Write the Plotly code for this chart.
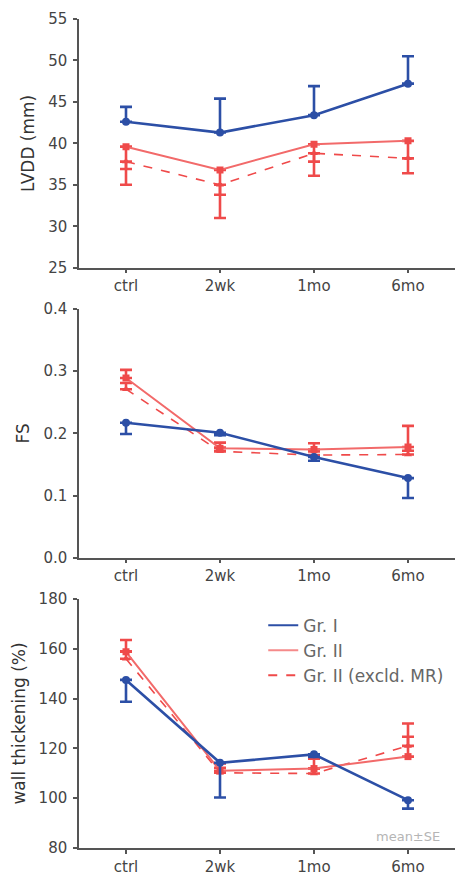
import plotly.graph_objects as go

categories = ["ctrl", "2wk", "1mo", "6mo"]

# LVDD (mm)
lvdd_g1 = [42.6, 41.3, 43.4, 47.2]
lvdd_g1_err = [1.8, 4.1, 3.5, 3.3]
lvdd_g2 = [39.6, 36.8, 39.9, 40.3]
lvdd_g2_err = [2.7, 3.0, 2.1, 2.1]
lvdd_g2x = [37.8, 35.0, 38.8, 38.2]
lvdd_g2x_err = [2.8, 4.0, 2.7, 1.8]

# FS
fs_g1 = [0.217, 0.201, 0.162, 0.128]
fs_g1_err = [0.018, 0.004, 0.006, 0.032]
fs_g2 = [0.289, 0.176, 0.174, 0.178]
fs_g2_err = [0.013, 0.009, 0.010, 0.034]
fs_g2x = [0.271, 0.171, 0.165, 0.166]
fs_g2x_err = [0.010, 0.006, 0.006, 0.006]

# wall thickening (%)
wt_g1 = [147.5, 114.2, 117.6, 99.2]
wt_g1_err = [8.8, 13.9, 1.0, 3.4]
wt_g2 = [158.8, 111.0, 111.9, 116.7]
wt_g2_err = [4.7, 3.0, 4.0, 8.0]
wt_g2x = [156.0, 110.2, 109.9, 121.0]
wt_g2x_err = [3.0, 2.0, 2.0, 9.0]

BLUE = "#2c4fa6"
RED = "#ef4a4a"
RED_LIGHT = "#f26a6a"
AXIS = "#555555"
TXT = "#444444"

x = list(range(len(categories)))
fig = go.Figure()

panels = [
    (lvdd_g1, lvdd_g1_err, lvdd_g2, lvdd_g2_err, lvdd_g2x, lvdd_g2x_err, "up", "down"),
    (fs_g1, fs_g1_err, fs_g2, fs_g2_err, fs_g2x, fs_g2x_err, "down", "up"),
    (wt_g1, wt_g1_err, wt_g2, wt_g2_err, wt_g2x, wt_g2x_err, "down", "up"),
]


def err(vals, direction, color):
    zeros = [0] * len(vals)
    return dict(
        type="data", symmetric=False,
        array=vals if direction == "up" else zeros,
        arrayminus=vals if direction == "down" else zeros,
        color=color, thickness=2.6, width=6,
    )


for i, (g1, g1e, g2, g2e, g2x, g2xe, d1, d2) in enumerate(panels):
    xa = "x" if i == 0 else f"x{i+1}"
    ya = "y" if i == 0 else f"y{i+1}"
    fig.add_trace(go.Scatter(
        x=x, y=g2x, mode="lines+markers", name="Gr. II (excld. MR)",
        line=dict(color=RED, width=1.6, dash="dash"),
        marker=dict(symbol="triangle-up", size=7, color=RED),
        error_y=err(g2xe, d2, RED), xaxis=xa, yaxis=ya, showlegend=False,
    ))
    fig.add_trace(go.Scatter(
        x=x, y=g2, mode="lines+markers", name="Gr. II",
        line=dict(color=RED_LIGHT, width=2),
        marker=dict(symbol="square", size=7, color=RED),
        error_y=err(g2e, d2, RED), xaxis=xa, yaxis=ya, showlegend=False,
    ))
    fig.add_trace(go.Scatter(
        x=x, y=g1, mode="lines+markers", name="Gr. I",
        line=dict(color=BLUE, width=2.6),
        marker=dict(symbol="circle", size=8, color=BLUE),
        error_y=err(g1e, d1, BLUE), xaxis=xa, yaxis=ya, showlegend=False,
    ))

# legend-only traces
for name, color, dash, rank in [("Gr. I", BLUE, "solid", 1),
                                ("Gr. II", "#f58a8a", "solid", 2),
                                ("Gr. II (excld. MR)", RED, "dash", 3)]:
    fig.add_trace(go.Scatter(
        x=[None], y=[None], mode="lines", name=name,
        line=dict(color=color, width=2, dash=dash),
        xaxis="x3", yaxis="y3", legendrank=rank,
    ))

font = "DejaVu Sans, Arial, sans-serif"
xcommon = dict(
    tickmode="array", tickvals=x, ticktext=categories, range=[-0.5, 3.5],
    showline=True, linecolor=AXIS, linewidth=1.5, ticks="outside", ticklen=4,
    tickcolor=AXIS, tickwidth=1.5, showgrid=False, zeroline=False,
    tickfont=dict(size=15, color=TXT, family=font), automargin=False,
)
ycommon = dict(
    showline=True, linecolor=AXIS, linewidth=1.5, ticks="outside", ticklen=4,
    tickcolor=AXIS, tickwidth=1.5, showgrid=False, zeroline=False,
    tickfont=dict(size=15, color=TXT, family=font),
    title_font=dict(size=17, color="#333333", family=font),
    title_standoff=9, ticklabelstandoff=3, automargin=False,
)

fig.update_layout(
    width=467, height=877,
    margin=dict(l=79, r=12, t=19, b=29, autoexpand=False),
    paper_bgcolor="white", plot_bgcolor="white",
    font=dict(family=font, color=TXT),
    xaxis=dict(**xcommon, anchor="y", domain=[0, 1]),
    xaxis2=dict(**xcommon, anchor="y2", domain=[0, 1]),
    xaxis3=dict(**xcommon, anchor="y3", domain=[0, 1]),
    yaxis=dict(**ycommon, anchor="x", domain=[0.7, 1.0], range=[25, 55],
               tickvals=[25, 30, 35, 40, 45, 50, 55], title_text="LVDD (mm)"),
    yaxis2=dict(**ycommon, anchor="x2", domain=[0.3502, 0.6502], range=[0, 0.4],
                tickvals=[0, 0.1, 0.2, 0.3, 0.4], tickformat=".1f", title_text="FS"),
    yaxis3=dict(**ycommon, anchor="x3", domain=[0.0, 0.3004], range=[80, 180],
                tickvals=[80, 100, 120, 140, 160, 180], title_text="wall thickening (%)"),
    legend=dict(
        x=0.49, y=0.29, xanchor="left", yanchor="top",
        bgcolor="rgba(0,0,0,0)", font=dict(size=17, color="#666666", family=font),
        tracegroupgap=0, itemwidth=30,
    ),
    annotations=[dict(
        text="mean±SE", x=0.875, y=0.0133, xref="paper", yref="paper",
        xanchor="center", yanchor="middle",
        showarrow=False, font=dict(size=13, color="#b5b5b5", family=font),
    )],
)

fig.write_html(
    "out.html",
    config={"displayModeBar": False},
    post_script="document.body.style.margin='0';document.body.style.overflow='hidden';",
)
